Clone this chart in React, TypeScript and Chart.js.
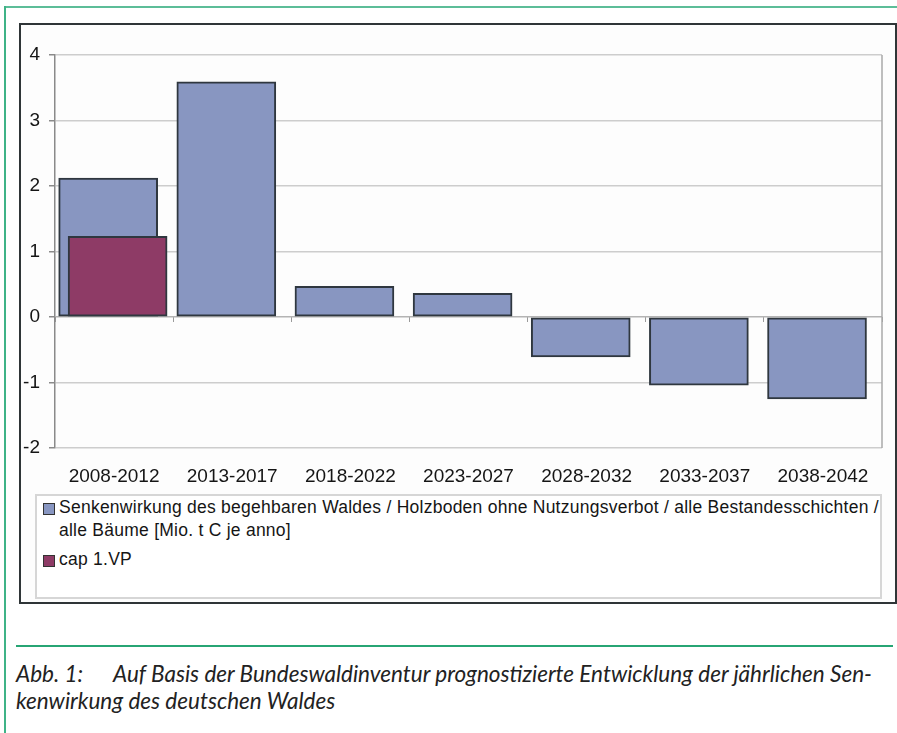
import React, { useEffect, useRef } from "react";
import { Chart, registerables } from "chart.js";

Chart.register(...registerables);

// ---- data ----
const PERIODS = [
  "2008-2012",
  "2013-2017",
  "2018-2022",
  "2023-2027",
  "2028-2032",
  "2033-2037",
  "2038-2042",
];
const SENKE = [2.12, 3.59, 0.47, 0.36, -0.61, -1.04, -1.25];
const CAP = [1.23];
const Y_TICKS = [-2, -1, 0, 1, 2, 3, 4];
const SENKE_LABEL_LINES = [
  "Senkenwirkung des begehbaren Waldes / Holzboden ohne Nutzungsverbot / alle Bestandesschichten /",
  "alle Bäume [Mio. t C je anno]",
];
const CAP_LABEL = "cap 1.VP";
const CAPTION_NUM = "Abb. 1:";
const CAPTION_LINES = [
  "Auf Basis der Bundeswaldinventur prognostizierte Entwicklung der jährlichen Sen-",
  "kenwirkung des deutschen Waldes",
];

// ---- styles ----
const BLUE = "#8896c1";
const MAROON = "#8e3b66";
const EDGE = "#2f373f";
const FONT = "'Liberation Sans', Arial, Helvetica, sans-serif";
const BLUE_SHIFT = 0.05; // fraction of a category, Excel-style series overlap
const MAROON_SHIFT = -0.03;

const plotBorder = {
  id: "plotBorder",
  afterDraw(chart: any) {
    const { ctx, chartArea: a } = chart;
    ctx.save();
    ctx.strokeStyle = "#a8a8a8";
    ctx.lineWidth = 1.5;
    ctx.beginPath();
    ctx.moveTo(a.right, a.top);
    ctx.lineTo(a.right, a.bottom);
    ctx.stroke();
    ctx.restore();
  },
};

export default function App() {
  const canvasRef = useRef<HTMLCanvasElement | null>(null);

  useEffect(() => {
    if (!canvasRef.current) return;
    const n = PERIODS.length;
    const chart = new Chart(canvasRef.current, {
      type: "bar",
      data: {
        labels: PERIODS,
        datasets: [
          {
            label: CAP_LABEL,
            data: CAP.map((v, i) => ({ x: i, y: v })),
            xAxisID: "xm",
            yAxisID: "y",
            backgroundColor: MAROON,
            borderColor: EDGE,
            borderWidth: 2,
            borderSkipped: false,
            barThickness: 99,
            grouped: false,
            order: 0,
          } as any,
          {
            label: SENKE_LABEL_LINES.join(" "),
            data: SENKE.map((v, i) => ({ x: i, y: v })),
            xAxisID: "xb",
            yAxisID: "y",
            backgroundColor: BLUE,
            borderColor: EDGE,
            borderWidth: 2,
            borderSkipped: false,
            barThickness: 99,
            grouped: false,
            order: 1,
          } as any,
        ],
      },
      options: {
        animation: false,
        responsive: true,
        maintainAspectRatio: false,
        layout: { padding: { left: 0, top: 55, right: 15, bottom: 0 } },
        plugins: {
          legend: { display: false },
          tooltip: { enabled: false },
        },
        scales: {
          x: {
            type: "category",
            axis: "x",
            position: "bottom",
            offset: true,
            grid: { display: false, drawTicks: false, tickLength: 0 },
            border: { display: false },
            ticks: {
              font: { family: FONT, size: 19 },
              color: "#151515",
              padding: 17,
              maxRotation: 0,
              autoSkip: false,
            },
            afterFit(s: any) {
              s.height = 52;
            },
          },
          x0: {
            type: "category",
            axis: "x",
            position: { y: 0 },
            offset: true,
            grid: {
              offset: true,
              drawOnChartArea: false,
              drawTicks: true,
              tickLength: 5,
              color: "#9a9a9a",
              lineWidth: 1,
            },
            ticks: { display: false },
            border: { display: false },
          },
          xb: {
            type: "linear",
            axis: "x",
            display: false,
            offset: false,
            grid: { offset: false },
            min: -0.5 + BLUE_SHIFT,
            max: n - 0.5 + BLUE_SHIFT,
          },
          xm: {
            type: "linear",
            axis: "x",
            display: false,
            offset: false,
            grid: { offset: false },
            min: -0.5 + MAROON_SHIFT,
            max: n - 0.5 + MAROON_SHIFT,
          },
          y: {
            type: "linear",
            position: "left",
            min: Y_TICKS[0],
            max: Y_TICKS[Y_TICKS.length - 1],
            afterBuildTicks(s: any) {
              s.ticks = Y_TICKS.map((v) => ({ value: v }));
            },
            grid: {
              color: (c: any) => (c.tick && c.tick.value === 0 ? "#b4b4b4" : "#cdcdcd"),
              lineWidth: 1.5,
              tickLength: 6,
              tickColor: "#8a8a8a",
            },
            border: { color: "#8a8a8a", width: 1.5 },
            ticks: {
              font: { family: FONT, size: 19 },
              color: "#151515",
              padding: 9,
            },
            afterFit(s: any) {
              s.width = 55;
            },
          },
        } as any,
      },
      plugins: [plotBorder],
    });
    return () => chart.destroy();
  }, []);

  const sq = (color: string, top: number): React.CSSProperties => ({
    position: "absolute",
    left: 6,
    top,
    width: 10,
    height: 10,
    background: color,
    border: "1px solid #333",
  });

  return (
    <div
      style={{
        position: "relative",
        width: 897,
        height: 733,
        background: "#fff",
        overflow: "hidden",
        fontFamily: FONT,
      }}
    >
      <style>{"body{margin:0}"}</style>
      {/* outer green frame */}
      <div style={{ position: "absolute", left: 4, top: 6, width: 893, height: 2, background: "#5cbd98" }} />
      <div style={{ position: "absolute", left: 4, top: 6, width: 1.5, height: 727, background: "#3fb387" }} />
      {/* dark chart frame */}
      <div
        style={{
          position: "absolute",
          left: 19,
          top: 23,
          width: 878,
          height: 581,
          boxSizing: "border-box",
          border: "2px solid #2f3537",
          background: "#fdfdfd",
        }}
      />
      <div style={{ position: "absolute", left: 0, top: 0, width: 897, height: 500 }}>
        <canvas ref={canvasRef} />
      </div>
      {/* legend */}
      <div
        style={{
          position: "absolute",
          left: 35,
          top: 494,
          width: 847,
          height: 105,
          boxSizing: "border-box",
          border: "2px solid #d6d6d6",
          background: "#fff",
          fontSize: 17.5,
          letterSpacing: "0.25px",
          lineHeight: "23px",
          color: "#151515",
        }}
      >
        <div style={sq(BLUE, 7)} />
        <div style={{ position: "absolute", left: 22, top: 0, whiteSpace: "nowrap" }}>
          {SENKE_LABEL_LINES.map((l, i) => (
            <div key={i}>{l}</div>
          ))}
        </div>
        <div style={sq(MAROON, 59)} />
        <div style={{ position: "absolute", left: 22, top: 52, whiteSpace: "nowrap" }}>{CAP_LABEL}</div>
      </div>
      {/* caption */}
      <div style={{ position: "absolute", left: 16, top: 645, width: 877, height: 2, background: "#27a574" }} />
      <div
        style={{
          position: "absolute",
          left: 16,
          top: 660,
          fontFamily: "Lato, 'Open Sans', sans-serif",
          fontStyle: "italic",
          fontSize: 22.5,
          lineHeight: "27px",
          color: "#222",
          whiteSpace: "nowrap",
        }}
      >
        <div>
          <span style={{ display: "inline-block", width: 97 }}>{CAPTION_NUM}</span>
          {CAPTION_LINES[0]}
        </div>
        <div>{CAPTION_LINES[1]}</div>
      </div>
    </div>
  );
}
